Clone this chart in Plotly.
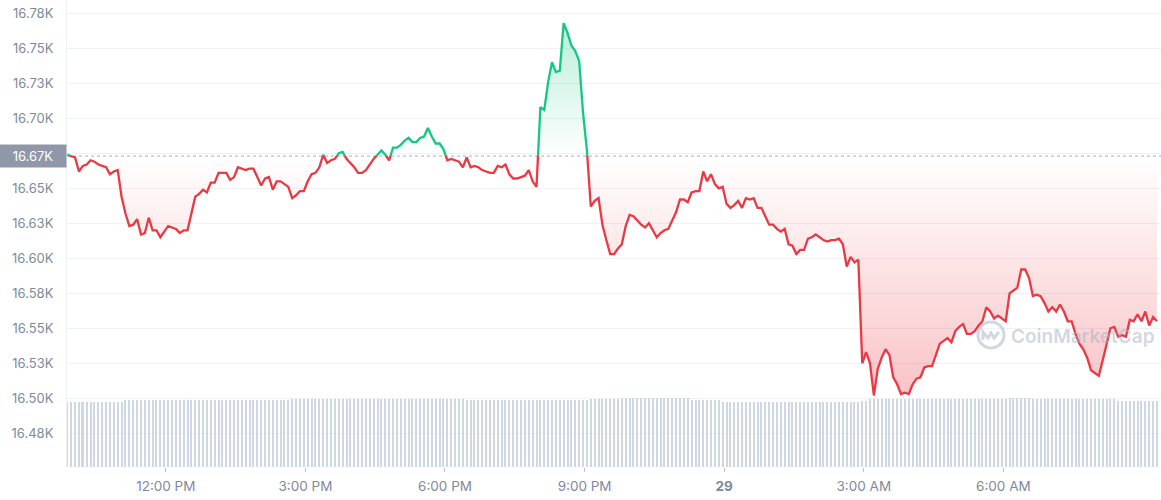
import pandas as pd
import plotly.graph_objects as go

# ---- data (BTC price, 5-minute steps) ----
START_TIME = "2022-11-28 09:53"
STEP = "5min"
REF_PRICE = 16673          # opening price (dotted reference line)
REF_LABEL = "16.67K"

PRICE = [
    16674, 16673, 16672, 16662, 16666, 16667, 16670, 16669, 16667, 16666,
    16665, 16660, 16662, 16663, 16644, 16632, 16623, 16624, 16628, 16617,
    16618, 16629, 16620, 16620, 16615, 16619, 16623, 16622, 16621, 16618,
    16620, 16620, 16633, 16644, 16646, 16649, 16647, 16654, 16654, 16661,
    16661, 16661, 16656, 16658, 16665, 16664, 16663, 16664, 16664, 16658,
    16652, 16657, 16658, 16649, 16655, 16655, 16653, 16651, 16643, 16645,
    16648, 16648, 16655, 16660, 16661, 16665, 16674, 16668, 16670, 16671,
    16675, 16676, 16671, 16668, 16665, 16661, 16661, 16663, 16667, 16671,
    16674, 16677, 16674, 16670, 16679, 16679, 16681, 16684, 16686, 16683,
    16683, 16686, 16687, 16693, 16687, 16682, 16682, 16678, 16670, 16671,
    16670, 16669, 16665, 16672, 16665, 16666, 16665, 16663, 16662, 16661,
    16661, 16666, 16665, 16667, 16660, 16657, 16657, 16658, 16659, 16663,
    16655, 16651, 16708, 16706, 16726, 16740, 16733, 16734, 16768, 16761,
    16752, 16748, 16741, 16704, 16677, 16637, 16641, 16643, 16624, 16613,
    16603, 16603, 16607, 16610, 16623, 16631, 16630, 16627, 16624, 16622,
    16625, 16620, 16615, 16618, 16620, 16621, 16627, 16633, 16642, 16642,
    16640, 16647, 16648, 16648, 16662, 16655, 16660, 16653, 16650, 16651,
    16639, 16636, 16638, 16641, 16636, 16643, 16642, 16643, 16636, 16636,
    16630, 16624, 16624, 16621, 16619, 16621, 16610, 16609, 16603, 16606,
    16606, 16614, 16615, 16617, 16615, 16613, 16612, 16613, 16613, 16614,
    16610, 16594, 16601, 16597, 16599, 16525, 16533, 16525, 16502, 16521,
    16529, 16535, 16531, 16515, 16510, 16503, 16504, 16503, 16510, 16514,
    16515, 16522, 16523, 16523, 16531, 16539, 16541, 16543, 16540, 16548,
    16551, 16553, 16546, 16546, 16548, 16552, 16555, 16565, 16562, 16557,
    16559, 16557, 16555, 16575, 16577, 16579, 16592, 16592, 16586, 16573,
    16574, 16573, 16568, 16562, 16565, 16562, 16567, 16562, 16555, 16555,
    16546, 16539, 16535, 16529, 16520, 16518, 16516, 16527, 16539, 16550,
    16551, 16544, 16545, 16544, 16556, 16555, 16560, 16555, 16562, 16552,
    16558, 16555,
]

# rolling 24h volume (billions USD), one bar per price point
VOLUME = [
    25.2, 25.2, 25.2, 25.2, 25.2, 25.2, 25.2, 25.2, 25.2, 25.2, 25.2, 25.2, 25.2, 25.2, 25.2,
    25.8, 25.8, 25.8, 25.8, 25.8, 25.8, 25.8, 25.8, 25.8, 25.8, 25.8, 25.8, 25.8, 25.8, 25.8,
    25.8, 25.8, 25.8, 25.8, 25.8, 25.8, 25.8, 25.8, 25.8, 25.8, 25.8, 25.8, 25.8, 25.8, 25.8,
    25.8, 25.8, 25.8, 25.8, 25.8, 25.8, 25.8, 25.8, 25.8, 25.8, 25.8, 25.8, 25.8,
    26.2, 26.2, 26.2, 26.2, 26.2, 26.2, 26.2, 26.2, 26.2, 26.2, 26.2, 26.2, 26.2, 26.2, 26.2,
    26.2, 26.2, 26.2, 26.2, 26.2, 26.2, 26.2, 26.2, 26.2, 26.2, 26.2, 26.2, 26.2, 26.2, 26.2,
    26.2, 26.2, 26.2, 26.2, 26.2, 26.2, 26.2, 26.2, 26.2, 26.2, 26.2, 26.2, 26.2, 26.2, 26.2,
    25.7, 25.7, 25.7, 25.7, 25.7, 25.7, 25.7, 25.7, 25.7, 25.7, 25.7, 25.7, 25.7, 25.7, 25.7, 25.7,
    25.7, 25.7, 25.7, 25.7, 25.7, 25.7, 25.7, 25.7, 25.7, 25.7, 25.7, 25.7, 25.7, 25.7, 25.7, 25.7,
    26.1, 26.1, 26.1, 26.1, 26.1, 26.1, 26.1, 26.1,
    26.5, 26.5, 26.5, 26.5, 26.5, 26.5, 26.5, 26.5, 26.5, 26.5, 26.5, 26.5, 26.5, 26.5, 26.5, 26.5, 26.5, 26.5,
    25.8, 25.8, 25.8, 25.8, 25.8, 25.8, 25.8, 25.8,
    25.2, 25.2, 25.2, 25.2, 25.2, 25.2, 25.2, 25.2, 25.2, 25.2, 25.2, 25.2, 25.2, 25.2, 25.2, 25.2, 25.2, 25.2,
    25.2, 25.2, 25.2, 25.2, 25.2, 25.2, 25.2, 25.2, 25.2, 25.2, 25.2, 25.2, 25.2, 25.2, 25.2, 25.2, 25.2, 25.2,
    25.6, 25.6,
    26.1, 26.1, 26.1, 26.1, 26.1, 26.1, 26.1, 26.1, 26.1, 26.1, 26.1, 26.1, 26.1, 26.1, 26.1, 26.1, 26.1, 26.1,
    26.1, 26.1, 26.1, 26.1, 26.1, 26.1, 26.1, 26.1, 26.1, 26.1, 26.1, 26.1, 26.1, 26.1, 26.1, 26.1, 26.1, 26.1,
    26.7, 26.7, 26.7, 26.7, 26.7, 26.7,
    26.1, 26.1, 26.1, 26.1, 26.1, 26.1, 26.1, 26.1, 26.1, 26.1, 26.1,
    26.1, 26.1, 26.1, 26.1, 26.1, 26.1, 26.1, 26.1, 26.1, 26.1, 26.1,
    25.6, 25.6, 25.6, 25.6, 25.6, 25.6, 25.6, 25.6, 25.6, 25.6, 25.6,
]

X_TICK_VALS = ["2022-11-28 12:00", "2022-11-28 15:00", "2022-11-28 18:00", "2022-11-28 21:00",
               "2022-11-29 00:00", "2022-11-29 03:00", "2022-11-29 06:00"]
X_TICK_TEXT = ["12:00 PM", "3:00 PM", "6:00 PM", "9:00 PM", "<b>29</b>", "3:00 AM", "6:00 AM"]
Y_TICK_VALS = [16475, 16500, 16525, 16550, 16575, 16600, 16625, 16650, 16675, 16700, 16725, 16750, 16775]
Y_TICK_TEXT = ["16.48K", "16.50K", "16.53K", "16.55K", "16.58K", "16.60K", "16.63K", "16.65K", "",
               "16.70K", "16.73K", "16.75K", "16.78K"]
X_RANGE = ["2022-11-28 09:52:37", "2022-11-29 09:23:13"]
Y_RANGE = [16450.9, 16784.5]
VOL_RANGE = [0, 180]

# ---- styles ----
GREEN = "#16c784"
RED = "#ea3943"
TICK_COLOR = "#808a9d"
GRID_COLOR = "#eff2f5"
FONT = "Inter"

times = pd.date_range(START_TIME, periods=len(PRICE), freq=STEP)
ref_line = [REF_PRICE] * len(PRICE)
ymin, ymax = Y_RANGE
split = (REF_PRICE - ymin) / (ymax - ymin)

fig = go.Figure()

# volume bars
fig.add_trace(go.Bar(x=times, y=VOLUME, yaxis="y4", marker=dict(color="#cfd6e4", line=dict(width=0)),
                     width=155000, hoverinfo="skip", showlegend=False))

# below-reference part (red), clipped by its own subplot domain
fig.add_trace(go.Scatter(x=times, y=ref_line, yaxis="y2", mode="lines", line=dict(width=0),
                         hoverinfo="skip", showlegend=False))
fig.add_trace(go.Scatter(x=times, y=PRICE, yaxis="y2", mode="lines",
                         line=dict(color=RED, width=2.3), fill="tonexty",
                         fillgradient=dict(type="vertical",
                                           colorscale=[[0, "rgba(234,57,67,0.30)"], [1, "rgba(234,57,67,0.0)"]],
                                           start=min(PRICE), stop=REF_PRICE),
                         showlegend=False))

# above-reference part (green)
fig.add_trace(go.Scatter(x=times, y=ref_line, yaxis="y3", mode="lines", line=dict(width=0),
                         hoverinfo="skip", showlegend=False))
fig.add_trace(go.Scatter(x=times, y=PRICE, yaxis="y3", mode="lines",
                         line=dict(color=GREEN, width=2.3), fill="tonexty",
                         fillgradient=dict(type="vertical",
                                           colorscale=[[0, "rgba(22,199,132,0.0)"], [1, "rgba(22,199,132,0.30)"]],
                                           start=REF_PRICE, stop=max(PRICE)),
                         showlegend=False))

fig.update_layout(
    width=1161, height=500,
    margin=dict(l=67, r=0, t=0, b=33, autoexpand=False),
    paper_bgcolor="white", plot_bgcolor="rgba(0,0,0,0)",
    font=dict(family=FONT, size=13, color=TICK_COLOR),
    showlegend=False,
    bargap=0,
    xaxis=dict(type="date", range=X_RANGE, tickvals=X_TICK_VALS, ticktext=X_TICK_TEXT,
               showgrid=False, zeroline=False, showline=False, automargin=False,
               ticks="outside", ticklen=4, tickcolor="#b8c0ce", tickwidth=1,
               tickfont=dict(family=FONT, size=13.5, color=TICK_COLOR), ticklabelstandoff=3),
    yaxis=dict(range=Y_RANGE, tickvals=Y_TICK_VALS, ticktext=Y_TICK_TEXT, automargin=False,
               showgrid=True, gridcolor=GRID_COLOR, gridwidth=1, zeroline=False,
               showline=True, linecolor=GRID_COLOR, linewidth=1, ticks="",
               tickfont=dict(family=FONT, size=13, color=TICK_COLOR), ticklabelstandoff=10),
    yaxis2=dict(domain=[0, split], range=[ymin, REF_PRICE], visible=False, anchor="x"),
    yaxis3=dict(domain=[split, 1], range=[REF_PRICE, ymax], visible=False, anchor="x"),
    yaxis4=dict(overlaying="y", range=VOL_RANGE, visible=False),
)

# dotted reference line
fig.add_shape(type="line", xref="paper", x0=0, x1=1, yref="y", y0=REF_PRICE, y1=REF_PRICE,
              line=dict(color="#a6b0c3", width=1, dash="dot"), layer="below")

# highlighted current reference label
fig.add_annotation(xref="paper", x=0, xanchor="right", yref="y", y=REF_PRICE, yanchor="middle",
                   text=REF_LABEL, showarrow=False, align="center",
                   font=dict(family=FONT, size=13, color="white"),
                   bgcolor="#8f97a8", borderpad=5, width=56, height=12, xshift=0)

# watermark
fig.add_annotation(xref="paper", yref="paper", x=0.9291, y=0.2805, xanchor="center", yanchor="middle",
                   text="CoinMarketCap", showarrow=False,
                   font=dict(family=FONT, size=19, color="rgba(166,176,195,0.5)", weight=600))
fig.add_shape(type="circle", xref="paper", yref="paper", xsizemode="pixel", ysizemode="pixel",
              xanchor=0.8446, yanchor=0.2827, x0=-13, x1=13, y0=-13, y1=13,
              line=dict(color="rgba(166,176,195,0.5)", width=3), layer="above")
fig.add_shape(type="path", xref="paper", yref="paper", xsizemode="pixel", ysizemode="pixel",
              xanchor=0.8446, yanchor=0.2827,
              path="M -8,-5 L -8,3 L -3,-3 L 0,2 L 3,-3 L 8,3",
              line=dict(color="rgba(166,176,195,0.5)", width=3), layer="above")

fig.write_html("out.html", config={"displayModeBar": False},
               post_script="document.body.style.margin='0';document.body.style.overflow='hidden';")
